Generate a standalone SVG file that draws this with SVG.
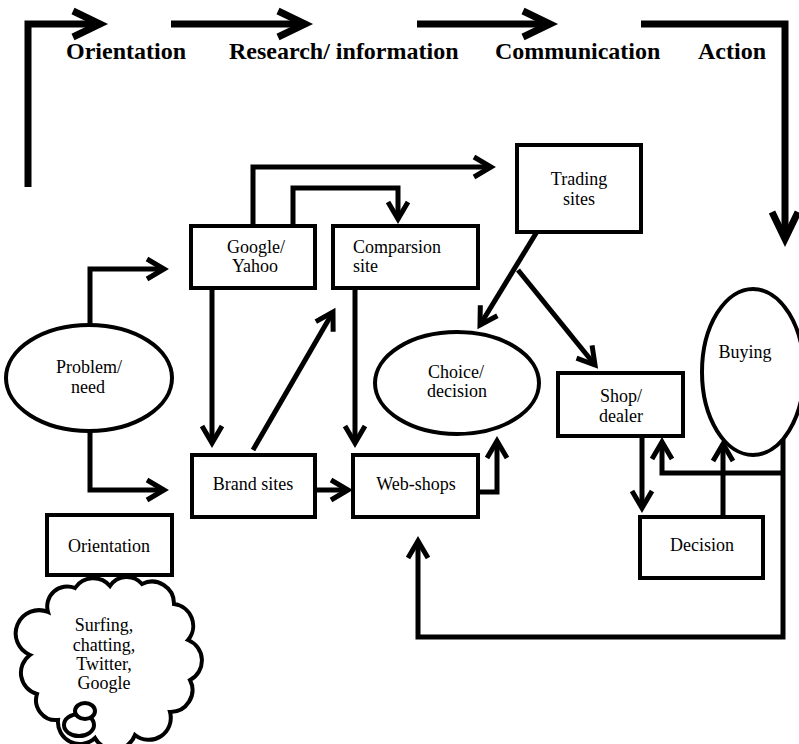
<svg xmlns="http://www.w3.org/2000/svg" width="799" height="744" viewBox="0 0 799 744">
  <defs>
    <style>
      .box { fill: #fff; stroke: #000; stroke-width: 4; }
      .ell { fill: #fff; stroke: #000; stroke-width: 4; }
      .lbl { font-family: "Liberation Serif", "Times New Roman", serif; font-size: 18px; fill: #000; text-anchor: middle; }
      .lbl-l { text-anchor: start; }
      .phase { font-family: "Liberation Serif", "Times New Roman", serif; font-size: 24px; font-weight: bold; fill: #000; }
      .conn { fill: none; stroke: #000; stroke-width: 5; stroke-linejoin: miter; marker-end: url(#arr); }
      .conn-plain { fill: none; stroke: #000; stroke-width: 5; }
      .stage { fill: none; stroke: #000; stroke-width: 7; stroke-linejoin: miter; }
    </style>
    <marker id="arr" markerUnits="userSpaceOnUse" markerWidth="50" markerHeight="50" viewBox="-25 -25 50 50" refX="0" refY="0" orient="auto" overflow="visible">
      <path d="M-17,-10 L0,0 L-17,10" fill="none" stroke="#000" stroke-width="5" stroke-linejoin="miter"/>
    </marker>
    <marker id="bigarr" markerUnits="userSpaceOnUse" markerWidth="80" markerHeight="80" viewBox="-40 -40 80 80" refX="0" refY="0" orient="auto" overflow="visible">
      <path d="M-27,-13 L0,0 L-27,13" fill="none" stroke="#000" stroke-width="7" stroke-linejoin="miter"/>
    </marker>
  </defs>

  <rect width="799" height="744" fill="#fff"/>

  <!-- stage arrows along the top -->
  <g id="stages">
    <path class="stage" d="M28,187 L28,24 L100,24" marker-end="url(#bigarr)"/>
    <path class="stage" d="M171,24 L305,24" marker-end="url(#bigarr)"/>
    <path class="stage" d="M417,24 L550,24" marker-end="url(#bigarr)"/>
    <path class="stage" d="M641,24 L785,24 L785,239" marker-end="url(#bigarr)"/>
    <text class="phase" x="66" y="59">Orientation</text>
    <text class="phase" x="229" y="59">Research/ information</text>
    <text class="phase" x="495" y="59">Communication</text>
    <text class="phase" x="698" y="59">Action</text>
  </g>

  <!-- connectors -->
  <g id="connectors">
    <path class="conn" d="M90,325 L90,269 L164,269"/>
    <path class="conn" d="M90,432 L90,490 L164,490"/>
    <path class="conn" d="M212,288 L212,443"/>
    <path class="conn" d="M253,450 L333,312"/>
    <path class="conn" d="M355,288 L355,443"/>
    <path class="conn" d="M315,490 L348,490"/>
    <path class="conn" d="M478,492 L497,492 L497,441"/>
    <path class="conn" d="M253,226 L253,167 L491,167"/>
    <path class="conn" d="M293,226 L293,188 L398,188 L398,219"/>
    <path class="conn" d="M538,230 L480,325"/>
    <path class="conn" d="M518,270 L595,365"/>
    <path class="conn" d="M642,436 L642,508"/>
    <path class="conn" d="M723,517 L723,444"/>
    <path class="conn" d="M783,434 L783,637 L418,637 L418,541"/>
    <path class="conn" d="M783,473 L662,473 L662,442"/>
  </g>

  <!-- nodes -->
  <g id="google-yahoo">
    <rect class="box" x="191" y="226" width="124" height="62"/>
    <text class="lbl" x="256" y="253">Google/</text>
    <text class="lbl" x="255" y="272">Yahoo</text>
  </g>
  <g id="comparison-site">
    <rect class="box" x="333" y="226" width="145" height="62"/>
    <text class="lbl lbl-l" x="353" y="253">Comparsion</text>
    <text class="lbl lbl-l" x="353" y="272">site</text>
  </g>
  <g id="trading-sites">
    <rect class="box" x="517" y="145" width="124" height="87"/>
    <text class="lbl" x="579" y="185">Trading</text>
    <text class="lbl" x="579" y="205">sites</text>
  </g>
  <g id="problem-need">
    <ellipse class="ell" cx="89" cy="378" rx="83" ry="53"/>
    <text class="lbl" x="89" y="373">Problem/</text>
    <text class="lbl" x="88" y="393">need</text>
  </g>
  <g id="brand-sites">
    <rect class="box" x="192" y="455" width="123" height="62"/>
    <text class="lbl" x="253" y="490">Brand sites</text>
  </g>
  <g id="web-shops">
    <rect class="box" x="353" y="455" width="125" height="62"/>
    <text class="lbl" x="416" y="490">Web-shops</text>
  </g>
  <g id="choice-decision">
    <ellipse class="ell" cx="457" cy="383" rx="82" ry="51"/>
    <text class="lbl" x="456" y="378">Choice/</text>
    <text class="lbl" x="457" y="397">decision</text>
  </g>
  <g id="shop-dealer">
    <rect class="box" x="558" y="373" width="125" height="63"/>
    <text class="lbl" x="621" y="402">Shop/</text>
    <text class="lbl" x="621" y="422">dealer</text>
  </g>
  <g id="decision">
    <rect class="box" x="640" y="517" width="123" height="61"/>
    <text class="lbl" x="702" y="551">Decision</text>
  </g>
  <g id="buying">
    <ellipse class="ell" cx="753" cy="372" rx="51" ry="83"/>
    <text class="lbl" x="745" y="358">Buying</text>
  </g>
  <g id="orientation">
    <rect class="box" x="47" y="515" width="125" height="60"/>
    <text class="lbl" x="109" y="552">Orientation</text>
  </g>
  <g id="activities-cloud">
    <path class="ell" d="M48,612 A20,20 0 0 1 75,588 A22,22 0 0 1 110,586 A20,20 0 0 1 142,584 A22,22 0 0 1 174,604 A22,22 0 0 1 188,640 A22,22 0 0 1 190,680 A22,22 0 0 1 170,712 A22,22 0 0 1 135,735 A22,22 0 0 1 95,738 A22,22 0 0 1 58,720 A20,20 0 0 1 37,694 A22,22 0 0 1 30,655 A22,22 0 0 1 48,612 Z"/>
    <ellipse class="ell" cx="79" cy="725" rx="15" ry="11"/>
    <ellipse class="ell" cx="85" cy="711" rx="10" ry="8"/>
    <text class="lbl" x="104" y="631">Surfing,</text>
    <text class="lbl" x="104" y="651">chatting,</text>
    <text class="lbl" x="104" y="670">Twitter,</text>
    <text class="lbl" x="104" y="689">Google</text>
  </g>
</svg>
